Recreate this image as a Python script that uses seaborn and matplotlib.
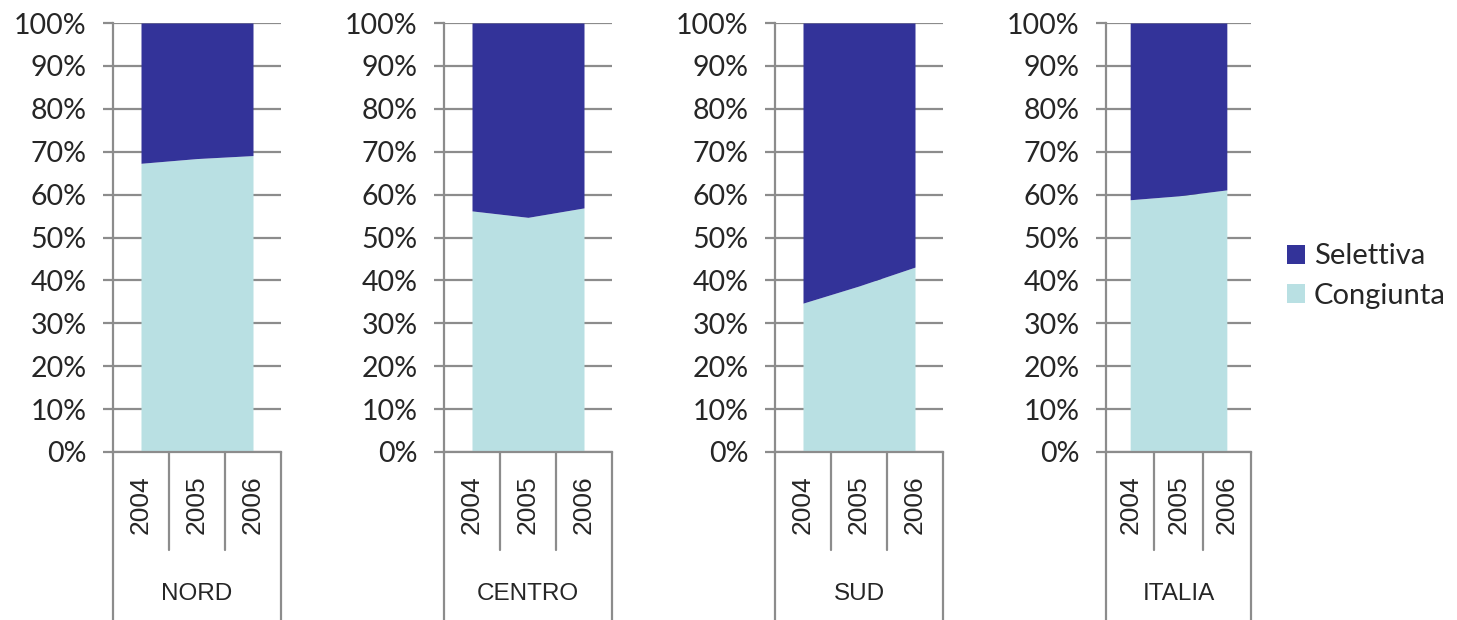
import numpy as np
import matplotlib
matplotlib.use("Agg")
import matplotlib.pyplot as plt
import seaborn as sns
from matplotlib.patches import Patch

# data (share of "Congiunta", rest is "Selettiva")
regions = ["NORD", "CENTRO", "SUD", "ITALIA"]
years = ["2004", "2005", "2006"]
congiunta = {
    "NORD": [67.3, 68.4, 69.1],
    "CENTRO": [56.2, 54.7, 56.9],
    "SUD": [34.7, 38.7, 43.1],
    "ITALIA": [58.8, 59.7, 61.1],
}
series_names = ["Selettiva", "Congiunta"]
y_ticks = list(range(0, 101, 10))

col_sel = "#333399"
col_con = "#B9E0E3"
grey = "#8c8c8c"

sns.set_theme(style="white")
plt.rcParams["font.family"] = ["Lato", "DejaVu Sans"]

W, H = 1457, 620
fig = plt.figure(figsize=(W / 100, H / 100), dpi=100)

# axes boxes in pixels: (left, right)
boxes = [(113, 281), (444, 612), (775, 943), (1106, 1251)]
top_px, bot_px = 23, 452
ax_h = bot_px - top_px

for reg, (l, r) in zip(regions, boxes):
    ax = fig.add_axes([l / W, 1 - bot_px / H, (r - l) / W, ax_h / H])
    x = np.arange(len(years))
    lo = np.array(congiunta[reg])
    ax.fill_between(x, 0, lo, color=col_con, lw=0, zorder=2)
    ax.fill_between(x, lo, 100, color=col_sel, lw=0, zorder=2)
    ax.set_xlim(-0.5, len(years) - 0.5)
    ax.set_ylim(0, 100)
    ax.set_yticks(y_ticks)
    ax.set_yticklabels([f"{t}%" for t in y_ticks], fontsize=20.5, fontfamily="Lato")
    ax.yaxis.grid(True, color=grey, lw=1.6, zorder=1)
    ax.set_axisbelow(True)
    ax.tick_params(axis="y", length=7, width=1.6, color=grey, pad=12, left=True)
    ax.set_xticks([])
    sns.despine(ax=ax, top=True, right=True, bottom=False, left=False)
    ax.spines["left"].set_color(grey)
    ax.spines["left"].set_linewidth(1.6)
    ax.spines["bottom"].set_color(grey)
    ax.spines["bottom"].set_linewidth(1.6)

    # category separators below the axis
    trans = ax.get_xaxis_transform()
    inner_y = -(550 - bot_px) / ax_h
    outer_y = -(H - bot_px) / ax_h
    for sx in np.arange(0.5, len(years) - 1, 1.0):
        ax.plot([sx, sx], [0, inner_y], color=grey, lw=1.6, transform=trans, clip_on=False)
    for sx in [-0.5, len(years) - 0.5]:
        ax.plot([sx, sx], [0, outer_y], color=grey, lw=1.6, transform=trans, clip_on=False)
    for xi, yr in zip(x, years):
        ax.text(xi, -(505 - bot_px) / ax_h, yr, rotation=90, ha="center", va="center",
                fontsize=19, fontfamily="Liberation Sans", transform=trans)
    ax.text((len(years) - 1) / 2, -(594 - bot_px) / ax_h, reg, ha="center", va="center",
            fontsize=17.5, fontfamily="Liberation Sans", transform=trans)

handles = [Patch(facecolor=col_sel, edgecolor="none"), Patch(facecolor=col_con, edgecolor="none")]
fig.legend(handles, series_names, loc="center left", bbox_to_anchor=(1287 / W, 1 - 276 / H),
           frameon=False, borderpad=0, borderaxespad=0, handlelength=0.62, handleheight=0.62,
           handletextpad=0.3, labelspacing=0.45, prop={"family": "Lato", "size": 21})

fig.savefig("out.png", dpi=100)
